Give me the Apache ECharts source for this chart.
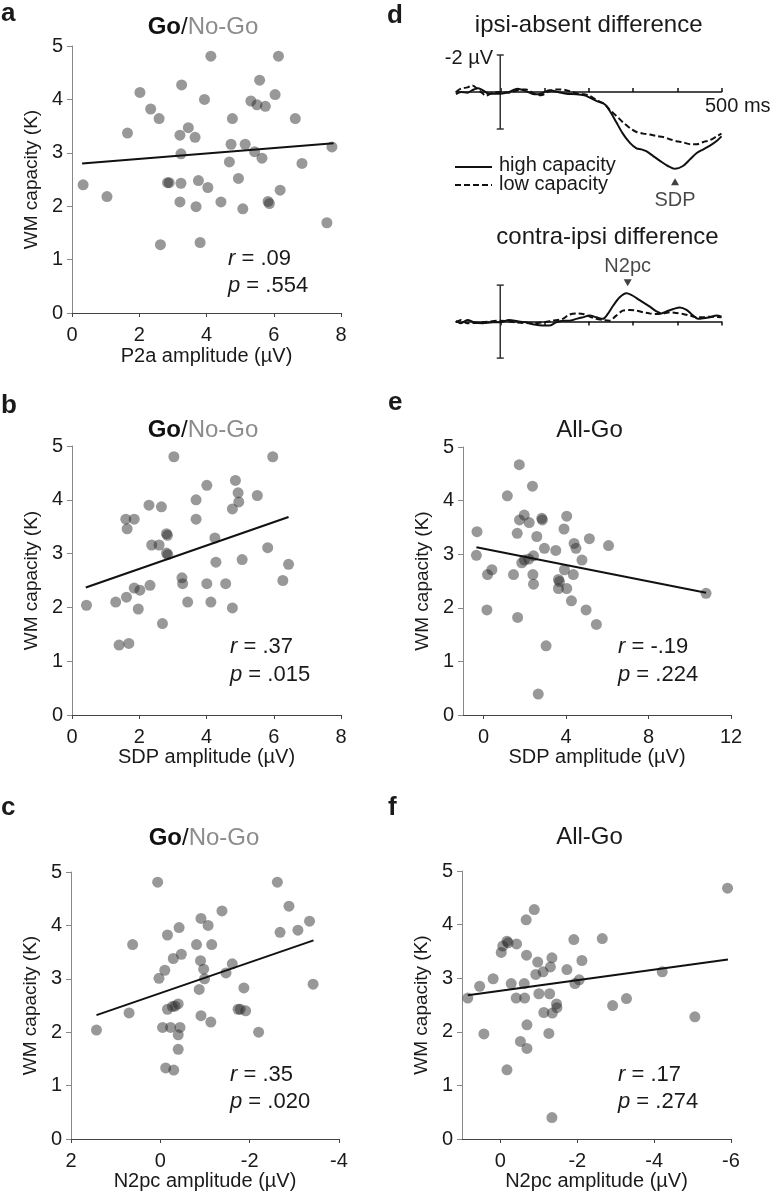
<!DOCTYPE html>
<html><head><meta charset="utf-8">
<script src="https://cdn.jsdelivr.net/npm/echarts@6/dist/echarts.min.js"></script>
<style>html,body{margin:0;padding:0;background:#fff}#c{width:771px;height:1194px}</style>
</head><body><div id="c"></div>
<script>
const FONT = "'Liberation Sans', Arial, Helvetica, sans-serif";
const TXT = '#1a1a1a';

// ---- Data ----
const capacityTicks = [0, 1, 2, 3, 4, 5];
const aPts = [[0.33,2.40],[1.04,2.18],[1.65,3.37],[2.02,4.13],[2.34,3.82],[2.59,3.64],[2.63,1.28],[2.84,2.44],[2.89,2.44],[3.26,4.27],[3.21,3.33],[3.24,2.98],[3.24,2.43],[3.21,2.08],[3.46,3.47],[3.66,3.29],[3.76,2.48],[3.69,1.99],[3.81,1.32],[3.94,4.00],[4.13,4.81],[4.04,2.35],[4.43,2.08],[4.77,3.64],[4.73,3.16],[4.68,2.83],[4.95,2.52],[5.08,1.95],[5.15,3.16],[5.32,3.97],[5.50,3.90],[5.43,3.02],[5.58,4.36],[5.75,3.87],[5.65,2.90],[5.83,2.09],[5.87,2.05],[6.14,4.81],[6.04,4.09],[6.19,2.30],[6.64,3.64],[6.84,2.80],[7.58,1.69],[7.73,3.11]];
const aFit = [[0.30,2.80],[7.78,3.18]];
const bPts = [[0.43,2.04],[1.30,2.10],[1.40,1.30],[1.69,1.33],[1.60,3.64],[1.64,3.46],[1.85,3.64],[1.62,2.19],[1.85,2.36],[2.02,2.32],[1.97,1.97],[2.29,3.90],[2.32,2.41],[2.37,3.16],[2.59,3.16],[2.66,3.87],[2.69,1.70],[2.81,3.37],[2.84,3.34],[2.81,3.01],[2.85,2.98],[3.03,4.80],[3.27,2.55],[3.29,2.44],[3.44,2.10],[3.69,4.00],[3.69,3.64],[4.01,4.27],[4.01,2.44],[4.13,2.10],[4.25,3.29],[4.28,2.84],[4.57,2.44],[4.77,1.99],[4.77,3.83],[4.86,4.36],[4.94,4.13],[4.96,3.96],[5.06,2.89],[5.51,4.08],[5.82,3.11],[5.97,4.80],[6.27,2.50],[6.44,2.80]];
const bFit = [[0.41,2.37],[6.44,3.68]];
const cPts = [[1.43,2.04],[0.70,2.36],[0.62,3.64],[0.06,4.81],[0.03,3.01],[-0.10,3.16],[-0.16,2.43],[-0.05,2.09],[-0.16,3.82],[-0.23,2.09],[-0.27,2.48],[-0.29,3.38],[-0.33,2.49],[-0.40,2.53],[-0.42,3.96],[-0.47,3.46],[-0.40,1.95],[-0.44,2.09],[-0.40,1.68],[-0.12,1.33],[-0.30,1.29],[-0.81,3.64],[-0.91,4.13],[-0.90,3.34],[-0.97,3.18],[-0.99,3.00],[-0.87,2.80],[-0.91,2.31],[-1.07,4.00],[-1.15,3.64],[-1.13,2.19],[-1.38,4.27],[-1.47,3.11],[-1.61,3.28],[-1.74,2.43],[-1.79,2.43],[-1.91,2.40],[-1.87,2.83],[-2.20,2.00],[-2.62,4.81],[-2.68,3.87],[-2.88,4.36],[-3.08,3.91],[-3.34,4.08],[-3.42,2.90]];
const cFit = [[1.43,2.32],[-3.43,3.72]];
const ePts = [[-0.32,3.42],[-0.35,2.98],[0.16,1.96],[0.19,2.62],[0.40,2.71],[1.15,4.09],[1.45,2.62],[1.63,3.39],[1.65,1.82],[1.73,4.67],[1.74,3.64],[1.97,3.73],[1.85,2.84],[1.98,2.89],[2.21,3.59],[2.19,2.91],[2.37,4.27],[2.42,2.97],[2.39,2.62],[2.42,2.44],[2.58,3.33],[2.82,3.67],[2.85,3.64],[2.95,3.11],[3.03,1.29],[3.50,3.07],[3.63,2.53],[3.68,2.49],[3.63,2.36],[3.90,3.47],[3.92,2.71],[4.03,3.71],[4.03,2.36],[4.26,2.13],[4.39,3.20],[4.48,3.11],[4.35,2.62],[4.77,2.89],[4.97,1.96],[5.13,3.29],[5.47,1.69],[6.06,3.16],[10.79,2.27],[2.65,0.39]];
const eFit = [[-0.35,3.13],[10.79,2.28]];
const fPts = [[0.85,2.63],[0.54,2.85],[0.43,1.96],[0.19,2.99],[-0.02,3.48],[-0.06,3.60],[-0.17,3.69],[-0.20,3.66],[-0.17,1.29],[-0.28,2.90],[-0.42,3.64],[-0.41,2.63],[-0.52,1.82],[-0.62,2.90],[-0.63,2.63],[-0.67,4.09],[-0.68,3.43],[-0.69,2.13],[-0.69,1.69],[-0.88,4.28],[-0.92,3.07],[-0.97,3.30],[-1.00,2.71],[-1.11,3.12],[-1.13,2.36],[-1.26,1.97],[-1.28,2.71],[-1.30,3.21],[-1.34,3.38],[-1.34,0.40],[-1.35,2.35],[-1.46,2.52],[-1.47,2.45],[-1.73,3.16],[-1.91,3.72],[-1.94,2.90],[-2.05,2.97],[-2.12,3.33],[-2.65,3.74],[-2.92,2.49],[-3.28,2.62],[-4.21,3.12],[-5.06,2.28],[-5.91,4.68]];
const fFit = [[0.85,2.68],[-5.92,3.35]];
const eTicks = [0, 4, 8, 12];
const fTicks = [0, -2, -4, -6];

// ERP waveforms [ms, µV] (negative plotted up)
const ipsiHigh = [[-100,0.12],[-89,0],[-74,0.04],[-63,-0.1],[-51,-0.2],[-40,-0.1],[-25,0.09],[0,0.09],[20,0],[39,-0.18],[58,-0.05],[77,0.12],[92,0.09],[111,-0.1],[130,0],[149,0.09],[172,0.12],[190,0.18],[202,0.3],[217,0.48],[236,0.66],[247,1.0],[262,1.62],[277,2.25],[293,2.75],[308,3.05],[319,3.1],[330,3.2],[345,3.45],[361,3.72],[379,4.0],[395,4.15],[413,4.0],[429,3.64],[444,3.3],[459,3.1],[474,2.9],[489,2.65],[500,2.4]];
const ipsiLow = [[-100,0],[-89,-0.18],[-74,-0.25],[-63,-0.35],[-51,-0.15],[-40,0.07],[-33,0.2],[-17,0.04],[0,0],[20,0.04],[39,-0.1],[58,-0.14],[77,0.09],[92,0.18],[111,-0.05],[130,-0.14],[149,-0.1],[172,0.07],[190,0.12],[202,0.2],[217,0.43],[236,0.66],[247,0.96],[262,1.28],[277,1.63],[293,1.95],[308,2.16],[323,2.25],[338,2.3],[353,2.38],[368,2.43],[383,2.55],[398,2.66],[413,2.72],[429,2.82],[444,2.82],[459,2.7],[474,2.6],[489,2.4],[500,2.25]];
const contraHigh = [[-100,-0.05],[-89,0.09],[-74,-0.09],[-59,0.04],[-40,0.09],[-17,0.04],[0,0.04],[20,-0.09],[39,-0.02],[58,0.04],[77,0.16],[96,0.22],[111,0.22],[126,0.04],[141,-0.05],[156,-0.05],[172,-0.15],[187,-0.24],[202,-0.33],[217,-0.24],[232,-0.15],[243,-0.42],[255,-0.87],[270,-1.33],[285,-1.55],[296,-1.47],[308,-1.29],[323,-1.05],[338,-0.82],[353,-0.56],[364,-0.45],[376,-0.56],[391,-0.69],[406,-0.78],[421,-0.64],[436,-0.33],[447,-0.15],[459,-0.18],[474,-0.24],[489,-0.33],[500,-0.27]];
const contraLow = [[-100,0.04],[-89,-0.09],[-74,0.09],[-40,0.04],[0,-0.05],[35,0.04],[73,0.09],[96,0.04],[118,-0.05],[141,-0.15],[156,-0.38],[172,-0.45],[187,-0.42],[202,-0.27],[217,-0.15],[232,-0.09],[247,-0.05],[262,-0.33],[277,-0.6],[293,-0.64],[308,-0.6],[323,-0.51],[338,-0.45],[353,-0.42],[368,-0.45],[383,-0.51],[398,-0.47],[413,-0.42],[429,-0.33],[444,-0.24],[459,-0.24],[474,-0.27],[500,-0.24]];
const timeTicks = [0, 100, 200, 300, 400, 500];
const scaleBar = [[0, -2, 2]];
const sdpMark = [[395, 4.85]];
const n2pcMark = [[288, -2.13]];

// ---- Layout ----
const grids = [
  {left:72, top:46, width:269, height:267},     // a
  {left:72, top:446, width:269, height:269},    // b
  {left:71, top:872, width:268, height:267},    // c
  {left:456, top:55, width:265.5, height:129.5},// d upper
  {left:456, top:276, width:265.5, height:82.1},// d lower
  {left:463, top:447, width:268, height:268},   // e
  {left:462, top:871, width:269, height:268}    // f
];

function scatterX(gi, name, opts) {
  return Object.assign({
    type:'value', gridIndex:gi, name:name, nameLocation:'middle', nameGap:31,
    nameTextStyle:{fontSize:20, fontFamily:FONT, color:TXT},
    axisLine:{show:true, onZero:false, lineStyle:{color:'#444', width:1}},
    axisTick:{show:true, length:4, lineStyle:{color:'#444'}},
    axisLabel:{fontSize:20, fontFamily:FONT, color:TXT, margin:12},
    splitLine:{show:false}
  }, opts);
}
function scatterY(gi) {
  return {
    type:'value', gridIndex:gi, min:0, max:5, interval:1,
    name:'WM capacity (K)', nameLocation:'middle', nameGap:31, nameRotate:90,
    nameTextStyle:{fontSize:19, fontFamily:FONT, color:TXT},
    axisLine:{show:true, onZero:false, lineStyle:{color:'#888', width:1}},
    axisTick:{show:true, length:5, lineStyle:{color:'#888'}},
    axisLabel:{fontSize:20, fontFamily:FONT, color:TXT, margin:9},
    splitLine:{show:false}
  };
}

const xAxes = [
  scatterX(0, 'P2a amplitude (µV)', {min:0, max:8, interval:2, nameGap:33}),
  scatterX(1, 'SDP amplitude (µV)', {min:0, max:8, interval:2}),
  scatterX(2, 'N2pc amplitude (µV)', {min:-4, max:2, interval:2, inverse:true}),
  {type:'value', gridIndex:3, min:-100, max:500, axisLine:{onZero:true, lineStyle:{color:'#111', width:1.5}},
   axisTick:{show:true, inside:true, length:4, customValues:timeTicks, lineStyle:{color:'#111', width:1.5}},
   axisLabel:{show:false}, splitLine:{show:false}},
  {type:'value', gridIndex:4, min:-100, max:500, axisLine:{onZero:true, lineStyle:{color:'#111', width:1.5}},
   axisTick:{show:true, inside:false, length:4, customValues:timeTicks, lineStyle:{color:'#111', width:1.5}},
   axisLabel:{show:false}, splitLine:{show:false}},
  scatterX(5, 'SDP amplitude (µV)', {min:-1, max:12, axisTick:{show:true, length:4, customValues:eTicks, lineStyle:{color:'#444'}},
    axisLabel:{fontSize:20, fontFamily:FONT, color:TXT, margin:12, customValues:eTicks}}),
  scatterX(6, 'N2pc amplitude (µV)', {min:-6, max:1, inverse:true, axisTick:{show:true, length:4, customValues:fTicks, lineStyle:{color:'#444'}},
    axisLabel:{fontSize:20, fontFamily:FONT, color:TXT, margin:12, customValues:fTicks}})
];
const yAxes = [
  scatterY(0), scatterY(1), scatterY(2),
  {type:'value', gridIndex:3, min:-2, max:5, inverse:true, show:false},
  {type:'value', gridIndex:4, min:-2.5, max:2, inverse:true, show:false},
  scatterY(5), scatterY(6)
];

const dot = {color:'rgba(40,40,40,0.6)'};
function sc(gi, data) {
  return {type:'scatter', xAxisIndex:gi, yAxisIndex:gi, data:data, symbolSize:11, itemStyle:dot, silent:true, z:2};
}
function fit(gi, data) {
  return {type:'line', xAxisIndex:gi, yAxisIndex:gi, data:data, showSymbol:false, symbol:'none',
    lineStyle:{color:'#111', width:2}, silent:true, z:3};
}
function erp(gi, data, dashed, name) {
  return {type:'line', name:name, xAxisIndex:gi, yAxisIndex:gi, data:data, showSymbol:false, symbol:'none', smooth:0.3,
    lineStyle:{color:'#111', width:2, type: dashed ? [6,3] : 'solid'}, silent:true, z:3};
}
function bar(gi) {
  return {type:'custom', xAxisIndex:gi, yAxisIndex:gi, data:scaleBar, encode:{x:0, y:[1,2]}, silent:true, clip:false,
    renderItem:function(params, api){
      const t = api.coord([api.value(0), api.value(1)]);
      const b = api.coord([api.value(0), api.value(2)]);
      const w = 3.5, st = {stroke:'#333', lineWidth:1.5};
      return {type:'group', children:[
        {type:'line', shape:{x1:t[0], y1:t[1], x2:b[0], y2:b[1]}, style:st},
        {type:'line', shape:{x1:t[0]-w, y1:t[1], x2:t[0]+w, y2:t[1]}, style:st},
        {type:'line', shape:{x1:b[0]-w, y1:b[1], x2:b[0]+w, y2:b[1]}, style:st}
      ]};
    }};
}

const series = [
  sc(0, aPts), fit(0, aFit),
  sc(1, bPts), fit(1, bFit),
  sc(2, cPts), fit(2, cFit),
  bar(3), erp(3, ipsiHigh, false, 'high capacity'), erp(3, ipsiLow, true, 'low capacity'),
  {type:'scatter', xAxisIndex:3, yAxisIndex:3, data:sdpMark, symbol:'triangle', symbolSize:[8,7], clip:false,
   itemStyle:{color:'#111'}, silent:true,
   label:{show:true, position:'bottom', distance:5, formatter:'SDP', fontSize:20, fontFamily:FONT, color:TXT}},
  bar(4), erp(4, contraHigh, false, 'high capacity'), erp(4, contraLow, true, 'low capacity'),
  {type:'scatter', xAxisIndex:4, yAxisIndex:4, data:n2pcMark, symbol:'triangle', symbolRotate:180, symbolSize:[8,7], clip:false,
   itemStyle:{color:'#111'}, silent:true,
   label:{show:true, position:'top', distance:3, formatter:'N2pc', fontSize:20, fontFamily:FONT, color:TXT}},
  sc(5, ePts), fit(5, eFit),
  sc(6, fPts), fit(6, fFit)
];

// ---- Text annotations ----
function txt(x, y, text, o) {
  o = o || {};
  const align = o.align || 'left';
  return {type:'text', x:x, y:y, silent:true, z:10, style:Object.assign({
    text:text, fontSize:o.size || 20, fontFamily:FONT, fontWeight:o.weight || 'normal',
    fill:o.fill || TXT, align:align, textAlign:align, verticalAlign:'middle', textVerticalAlign:'middle'
  }, o.rich ? {rich:o.rich} : {})};
}
const goRich = {b:{fontWeight:'bold', fill:'#111', fontSize:24, fontFamily:FONT},
                s:{fill:'#111', fontSize:24, fontFamily:FONT},
                g:{fill:'#8c8c8c', fontSize:24, fontFamily:FONT}};
const itRich = {i:{fontStyle:'italic', fontSize:22, fontFamily:FONT, fill:TXT}};
const graphic = [
  txt(1, 14, 'a', {size:26, weight:'bold'}),
  txt(1, 406, 'b', {size:26, weight:'bold'}),
  txt(1, 808, 'c', {size:26, weight:'bold'}),
  txt(387, 16, 'd', {size:26, weight:'bold'}),
  txt(388, 403, 'e', {size:26, weight:'bold'}),
  txt(388, 808, 'f', {size:26, weight:'bold'}),
  txt(203, 27, '{b|Go}{s|/}{g|No-Go}', {align:'center', size:24, rich:goRich}),
  txt(203, 430, '{b|Go}{s|/}{g|No-Go}', {align:'center', size:24, rich:goRich}),
  txt(204, 838, '{b|Go}{s|/}{g|No-Go}', {align:'center', size:24, rich:goRich}),
  txt(589.5, 430, 'All-Go', {align:'center', size:24}),
  txt(589.5, 837, 'All-Go', {align:'center', size:24}),
  txt(588.7, 25, 'ipsi-absent difference', {align:'center', size:24}),
  txt(607.5, 237, 'contra-ipsi difference', {align:'center', size:24}),
  txt(228, 259, '{i|r} = .09', {size:22, rich:itRich}),
  txt(228, 286, '{i|p} = .554', {size:22, rich:itRich}),
  txt(230, 647, '{i|r} = .37', {size:22, rich:itRich}),
  txt(230, 675, '{i|p} = .015', {size:22, rich:itRich}),
  txt(230, 1075, '{i|r} = .35', {size:22, rich:itRich}),
  txt(230, 1102, '{i|p} = .020', {size:22, rich:itRich}),
  txt(618, 647, '{i|r} = -.19', {size:22, rich:itRich}),
  txt(618, 675, '{i|p} = .224', {size:22, rich:itRich}),
  txt(618, 1075, '{i|r} = .17', {size:22, rich:itRich}),
  txt(618, 1102, '{i|p} = .274', {size:22, rich:itRich}),
  txt(493, 58, '-2 µV', {align:'right', size:20}),
  txt(705, 106, '500 ms', {size:20}),
  {type:'line', silent:true, shape:{x1:455, y1:167, x2:492, y2:167}, style:{stroke:'#111', lineWidth:2}},
  {type:'line', silent:true, shape:{x1:455, y1:185, x2:492, y2:185}, style:{stroke:'#111', lineWidth:2, lineDash:[6,3]}},
  txt(499, 165, 'high capacity', {size:20}),
  txt(499, 184, 'low capacity', {size:20})
];

const chart = echarts.init(document.getElementById('c'), null, {renderer:'canvas'});
chart.setOption({
  animation:false,
  backgroundColor:'#fff',
  textStyle:{fontFamily:FONT},
  grid:grids,
  xAxis:xAxes,
  yAxis:yAxes,
  series:series,
  graphic:graphic
});
</script>
</body></html>
